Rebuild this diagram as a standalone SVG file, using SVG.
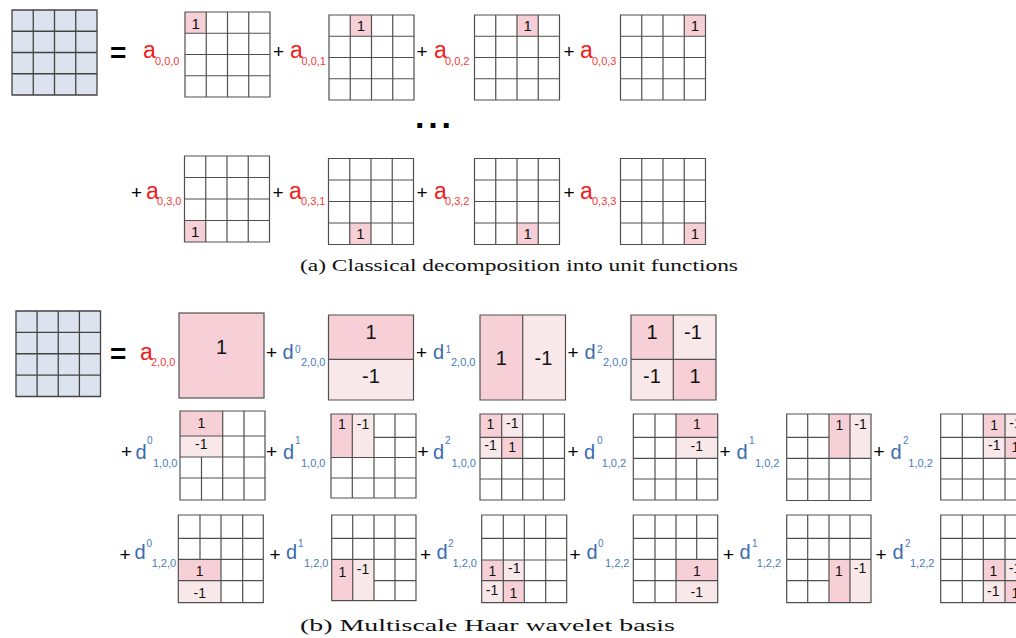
<svg xmlns="http://www.w3.org/2000/svg" width="1016" height="638" viewBox="0 0 1016 638">
<style>
text{font-family:"Liberation Sans",Arial,sans-serif}
.bg{fill:#ffffff}
.blue{fill:#dce3ee}
.pk{fill:#f6d0d6}
.lt{fill:#f9e8ea}
.ln{fill:none;stroke:#505050;stroke-width:1.2}
.lnb{fill:none;stroke:#444;stroke-width:1.3}
.c1{font-size:15px;fill:#111;text-anchor:middle}
.c2{font-size:14px;fill:#111;text-anchor:middle}
.big{font-size:20px;fill:#111;text-anchor:middle}
.eq{font-size:28px;font-weight:bold;fill:#000}
.plus{font-size:19px;fill:#000}
.a{font-size:23px;fill:#f21d1d}
.as{font-size:11px;fill:#f53a3a}
.d{font-size:20px;fill:#3a6daf}
.dp{font-size:10px;fill:#4a7cbc}
.ds{font-size:11px;fill:#4a7cbc}
.cap{font-family:"Liberation Serif","Times New Roman",serif;font-size:17px;fill:#111}
.dots{font-size:34px;font-weight:bold;fill:#000;letter-spacing:3.8px}
</style>

<!-- ===== (a) classical ===== -->
<g id="src-a">
<rect class="blue" x="12" y="10" width="85" height="85"/>
<path class="lnb" d="M12 10H97V95H12Z M33.25 10V95 M54.5 10V95 M75.75 10V95 M12 31.25H97 M12 52.5H97 M12 73.75H97"/>
</g>
<text class="eq" x="110" y="62">=</text>

<g id="labels-a">
<text class="a" x="143" y="58">a</text><text class="as" x="155" y="65">0,0,0</text>
<text class="plus" x="273" y="58">+</text><text class="a" x="290" y="58">a</text><text class="as" x="301.5" y="65">0,0,1</text>
<text class="plus" x="416.5" y="58">+</text><text class="a" x="434" y="58">a</text><text class="as" x="445" y="65">0,0,2</text>
<text class="plus" x="563.5" y="58">+</text><text class="a" x="580" y="58">a</text><text class="as" x="592" y="65">0,0,3</text>
<text class="plus" x="131" y="199">+</text><text class="a" x="146" y="199">a</text><text class="as" x="157" y="205">0,3,0</text>
<text class="plus" x="272.5" y="199">+</text><text class="a" x="289" y="199">a</text><text class="as" x="301" y="205">0,3,1</text>
<text class="plus" x="416.5" y="199">+</text><text class="a" x="434" y="199">a</text><text class="as" x="445" y="205">0,3,2</text>
<text class="plus" x="563.5" y="199">+</text><text class="a" x="580" y="199">a</text><text class="as" x="592" y="205">0,3,3</text>
</g>

<g id="g-a000">
<rect class="bg" x="185" y="12" width="85" height="85"/>
<rect class="pk" x="185" y="12" width="21.25" height="21.25"/>
<path class="ln" d="M185 12H270V97H185Z M206.25 12V97 M227.5 12V97 M248.75 12V97 M185 33.25H270 M185 54.5H270 M185 75.75H270"/>
<text class="c1" x="195.6" y="28.6">1</text>
</g>
<g id="g-a001">
<rect class="bg" x="329" y="15" width="85" height="85"/>
<rect class="pk" x="350.25" y="15" width="21.25" height="21.25"/>
<path class="ln" d="M329 15H414V100H329Z M350.25 15V100 M371.5 15V100 M392.75 15V100 M329 36.25H414 M329 57.5H414 M329 78.75H414"/>
<text class="c1" x="360.9" y="31.1">1</text>
</g>
<g id="g-a002">
<rect class="bg" x="474.5" y="15" width="85" height="85"/>
<rect class="pk" x="517" y="15" width="21.25" height="21.25"/>
<path class="ln" d="M474.5 15H559.5V100H474.5Z M495.75 15V100 M517 15V100 M538.25 15V100 M474.5 36.25H559.5 M474.5 57.5H559.5 M474.5 78.75H559.5"/>
<text class="c1" x="527.6" y="31.1">1</text>
</g>
<g id="g-a003">
<rect class="bg" x="620.5" y="15" width="85" height="85"/>
<rect class="pk" x="684.25" y="15" width="21.25" height="21.25"/>
<path class="ln" d="M620.5 15H705.5V100H620.5Z M641.75 15V100 M663 15V100 M684.25 15V100 M620.5 36.25H705.5 M620.5 57.5H705.5 M620.5 78.75H705.5"/>
<text class="c1" x="694.9" y="31.1">1</text>
</g>

<text class="dots" x="415" y="128">...</text>

<g id="g-a030">
<rect class="bg" x="184.5" y="156" width="85" height="86"/>
<rect class="pk" x="184.5" y="220.5" width="21.25" height="21.5"/>
<path class="ln" d="M184.5 156H269.5V242H184.5Z M205.75 156V242 M227 156V242 M248.25 156V242 M184.5 177.5H269.5 M184.5 199H269.5 M184.5 220.5H269.5"/>
<text class="c1" x="195.1" y="236.5">1</text>
</g>
<g id="g-a031">
<rect class="bg" x="328.5" y="158.5" width="85" height="86"/>
<rect class="pk" x="349.75" y="223" width="21.25" height="21.5"/>
<path class="ln" d="M328.5 158.5H413.5V244.5H328.5Z M349.75 158.5V244.5 M371 158.5V244.5 M392.25 158.5V244.5 M328.5 180H413.5 M328.5 201.5H413.5 M328.5 223H413.5"/>
<text class="c1" x="360.4" y="239">1</text>
</g>
<g id="g-a032">
<rect class="bg" x="474.5" y="158.5" width="85" height="86"/>
<rect class="pk" x="517" y="223" width="21.25" height="21.5"/>
<path class="ln" d="M474.5 158.5H559.5V244.5H474.5Z M495.75 158.5V244.5 M517 158.5V244.5 M538.25 158.5V244.5 M474.5 180H559.5 M474.5 201.5H559.5 M474.5 223H559.5"/>
<text class="c1" x="527.6" y="239">1</text>
</g>
<g id="g-a033">
<rect class="bg" x="620.5" y="158.5" width="85" height="86"/>
<rect class="pk" x="684.25" y="223" width="21.25" height="21.5"/>
<path class="ln" d="M620.5 158.5H705.5V244.5H620.5Z M641.75 158.5V244.5 M663 158.5V244.5 M684.25 158.5V244.5 M620.5 180H705.5 M620.5 201.5H705.5 M620.5 223H705.5"/>
<text class="c1" x="694.9" y="239">1</text>
</g>

<text class="cap" x="300" y="271" textLength="438" lengthAdjust="spacingAndGlyphs">(a) Classical decomposition into unit functions</text>

<!-- ===== (b) Haar ===== -->
<g id="src-b">
<rect class="blue" x="16" y="311" width="84.5" height="85.5"/>
<path class="lnb" d="M16 311H100.5V396.5H16Z M37.1 311V396.5 M58.25 311V396.5 M79.4 311V396.5 M16 332.4H100.5 M16 353.75H100.5 M16 375.1H100.5"/>
</g>
<text class="eq" x="110" y="363">=</text>

<g id="labels-b">
<text class="a" x="140" y="360">a</text><text class="as" x="151" y="366">2,0,0</text>
<text class="plus" x="266" y="359">+</text><text class="d" x="282.5" y="359">d</text><text class="dp" x="295" y="353">0</text><text class="ds" x="301" y="366">2,0,0</text>
<text class="plus" x="416" y="359">+</text><text class="d" x="433" y="359">d</text><text class="dp" x="445.5" y="353">1</text><text class="ds" x="451" y="366">2,0,0</text>
<text class="plus" x="567.5" y="359">+</text><text class="d" x="584.5" y="359">d</text><text class="dp" x="597" y="353">2</text><text class="ds" x="603" y="366">2,0,0</text>

<text class="plus" x="121" y="458">+</text><text class="d" x="135.5" y="458.5">d</text><text class="dp" x="147" y="444">0</text><text class="ds" x="153" y="467">1,0,0</text>
<text class="plus" x="266" y="458">+</text><text class="d" x="283" y="458.5">d</text><text class="dp" x="295" y="444">1</text><text class="ds" x="301" y="467">1,0,0</text>
<text class="plus" x="417.5" y="458">+</text><text class="d" x="433" y="458.5">d</text><text class="dp" x="445" y="444">2</text><text class="ds" x="451.5" y="467">1,0,0</text>
<text class="plus" x="567.5" y="458">+</text><text class="d" x="584" y="458.5">d</text><text class="dp" x="597" y="444">0</text><text class="ds" x="601.7" y="467">1,0,2</text>
<text class="plus" x="719.5" y="458">+</text><text class="d" x="736.5" y="458.5">d</text><text class="dp" x="749" y="444">1</text><text class="ds" x="755" y="467">1,0,2</text>
<text class="plus" x="873.5" y="458">+</text><text class="d" x="890.5" y="458.5">d</text><text class="dp" x="903" y="444">2</text><text class="ds" x="908.3" y="467">1,0,2</text>

<text class="plus" x="119.5" y="561">+</text><text class="d" x="134.5" y="559">d</text><text class="dp" x="146.5" y="547">0</text><text class="ds" x="151.7" y="567">1,2,0</text>
<text class="plus" x="269.5" y="561">+</text><text class="d" x="286" y="559">d</text><text class="dp" x="298" y="547">1</text><text class="ds" x="304" y="567">1,2,0</text>
<text class="plus" x="420" y="561">+</text><text class="d" x="436.5" y="559">d</text><text class="dp" x="448" y="547">2</text><text class="ds" x="452.5" y="567">1,2,0</text>
<text class="plus" x="569.5" y="561">+</text><text class="d" x="586.5" y="559">d</text><text class="dp" x="598" y="547">0</text><text class="ds" x="605" y="567">1,2,2</text>
<text class="plus" x="723" y="561">+</text><text class="d" x="739.5" y="559">d</text><text class="dp" x="752" y="547">1</text><text class="ds" x="756.7" y="567">1,2,2</text>
<text class="plus" x="875.5" y="561">+</text><text class="d" x="892.5" y="559">d</text><text class="dp" x="905" y="547">2</text><text class="ds" x="910" y="567">1,2,2</text>
</g>

<g id="g-a200">
<rect class="pk" x="179" y="313" width="85" height="85"/>
<rect class="ln" x="179" y="313" width="85" height="85"/>
<text class="big" x="221.5" y="354">1</text>
</g>
<g id="g-d0-200">
<rect class="pk" x="328.5" y="315" width="85" height="44.3"/>
<rect class="lt" x="328.5" y="359.3" width="85" height="40.7"/>
<path class="ln" d="M328.5 315H413.5V400H328.5Z M328.5 359.3H413.5"/>
<text class="big" x="371" y="339.3">1</text>
<text class="big" x="371" y="382.7">-1</text>
</g>
<g id="g-d1-200">
<rect class="pk" x="480" y="315" width="42.7" height="85"/>
<rect class="lt" x="522.7" y="315" width="42.8" height="85"/>
<path class="ln" d="M480 315H565.5V400H480Z M522.7 315V400"/>
<text class="big" x="501.3" y="365">1</text>
<text class="big" x="543.5" y="365">-1</text>
</g>
<g id="g-d2-200">
<rect class="pk" x="631" y="315" width="42.3" height="44.3"/>
<rect class="lt" x="673.3" y="315" width="42.7" height="44.3"/>
<rect class="lt" x="631" y="359.3" width="42.3" height="40.7"/>
<rect class="pk" x="673.3" y="359.3" width="42.7" height="40.7"/>
<path class="ln" d="M631 315H716V400H631Z M673.3 315V400 M631 359.3H716"/>
<text class="big" x="652" y="339.3">1</text>
<text class="big" x="693" y="339.3">-1</text>
<text class="big" x="652" y="382.7">-1</text>
<text class="big" x="695" y="382.7">1</text>
</g>

<g id="g-d0-100">
<rect class="bg" x="180" y="411" width="85" height="89"/>
<rect class="pk" x="180" y="411" width="42.7" height="25"/>
<rect class="lt" x="180" y="436" width="42.7" height="21"/>
<path class="ln" d="M180 411H265V500H180Z M222.7 411V500 M244 411V500 M201.5 457V500 M180 436H265 M180 457H265 M180 478H265"/>
<text class="c2" x="201.3" y="428.3">1</text>
<text class="c2" x="201.3" y="449.3">-1</text>
</g>
<g id="g-d1-100">
<rect class="bg" x="331" y="414" width="85" height="84"/>
<rect class="pk" x="331" y="414" width="21.3" height="43.5"/>
<rect class="lt" x="352.3" y="414" width="21.7" height="43.5"/>
<path class="ln" d="M331 414H416V498H331Z M352.3 414V498 M374 414V498 M395 414V498 M374 437.3H416 M331 457.5H416 M331 478H416"/>
<text class="c2" x="342" y="429">1</text>
<text class="c2" x="363" y="428.5">-1</text>
</g>
<g id="g-d2-100">
<rect class="bg" x="480" y="414" width="84.5" height="86"/>
<rect class="pk" x="480" y="414" width="21.7" height="23.3"/>
<rect class="lt" x="501.7" y="414" width="21" height="23.3"/>
<rect class="lt" x="480" y="437.3" width="21.7" height="21"/>
<rect class="pk" x="501.7" y="437.3" width="21" height="21"/>
<path class="ln" d="M480 414H564.5V500H480Z M501.7 414V500 M522.7 414V500 M543.3 414V500 M480 437.3H564.5 M480 458.3H564.5 M480 479H564.5"/>
<text class="c2" x="490.5" y="429">1</text>
<text class="c2" x="512.2" y="428">-1</text>
<text class="c2" x="490.5" y="450">-1</text>
<text class="c2" x="512.2" y="451.5">1</text>
</g>
<g id="g-d0-102">
<rect class="bg" x="633.3" y="414" width="84.4" height="86"/>
<rect class="pk" x="676" y="414" width="41.7" height="23.3"/>
<rect class="lt" x="676" y="437.3" width="41.7" height="21"/>
<path class="ln" d="M633.3 414H717.7V500H633.3Z M655 414V500 M676 414V500 M696.7 458.3V500 M633.3 437.3H717.7 M633.3 458.3H717.7 M633.3 479H717.7"/>
<text class="c2" x="696.8" y="428.5">1</text>
<text class="c2" x="696.8" y="450.5">-1</text>
</g>
<g id="g-d1-102">
<rect class="bg" x="786.7" y="414" width="84.3" height="86.5"/>
<rect class="pk" x="829" y="414" width="21" height="44.3"/>
<rect class="lt" x="850" y="414" width="21" height="44.3"/>
<path class="ln" d="M786.7 414H871V500.5H786.7Z M807.7 414V500.5 M829 414V500.5 M850 414V500.5 M786.7 437.3H829 M786.7 458.3H871 M786.7 479H871"/>
<text class="c2" x="839.5" y="430">1</text>
<text class="c2" x="860.5" y="428.5">-1</text>
</g>
<g id="g-d2-102">
<rect class="bg" x="940.7" y="414" width="85.3" height="86"/>
<rect class="pk" x="983.3" y="414" width="21.7" height="23.3"/>
<rect class="lt" x="1005" y="414" width="21" height="23.3"/>
<rect class="lt" x="983.3" y="437.3" width="21.7" height="21"/>
<rect class="pk" x="1005" y="437.3" width="21" height="21"/>
<path class="ln" d="M940.7 414H1026V500H940.7Z M962.3 414V500 M983.3 414V500 M1005 414V500 M940.7 437.3H1026 M940.7 458.3H1026 M940.7 479H1026"/>
<text class="c2" x="994.2" y="430">1</text>
<text class="c2" x="1015.5" y="428">-1</text>
<text class="c2" x="994.2" y="450">-1</text>
<text class="c2" x="1015.5" y="451.5">1</text>
</g>

<g id="g-d0-120">
<rect class="bg" x="178.3" y="515" width="85" height="87.7"/>
<rect class="pk" x="178.3" y="559.3" width="42.7" height="21.4"/>
<rect class="lt" x="178.3" y="580.7" width="42.7" height="22"/>
<path class="ln" d="M178.3 515H263.3V602.7H178.3Z M200 515V559.3 M221 515V602.7 M242.7 515V602.7 M178.3 538.3H263.3 M178.3 559.3H263.3 M178.3 580.7H263.3"/>
<text class="c2" x="199.7" y="575.7">1</text>
<text class="c2" x="199.7" y="597.5">-1</text>
</g>
<g id="g-d1-120">
<rect class="bg" x="331.7" y="515" width="84.3" height="85.7"/>
<rect class="pk" x="331.7" y="559.3" width="21" height="41.4"/>
<rect class="lt" x="352.7" y="559.3" width="21.3" height="41.4"/>
<path class="ln" d="M331.7 515H416V600.7H331.7Z M352.7 515V600.7 M374 515V600.7 M395 515V600.7 M331.7 538.3H416 M331.7 559.3H416 M374 580.7H416"/>
<text class="c2" x="342.3" y="576.7">1</text>
<text class="c2" x="363" y="573.5">-1</text>
</g>
<g id="g-d2-120">
<rect class="bg" x="481.7" y="515" width="85" height="87.7"/>
<rect class="pk" x="481.7" y="560" width="21.6" height="20.7"/>
<rect class="lt" x="503.3" y="560" width="21" height="20.7"/>
<rect class="lt" x="481.7" y="580.7" width="21.6" height="22"/>
<rect class="pk" x="503.3" y="580.7" width="21" height="22"/>
<path class="ln" d="M481.7 515H566.7V602.7H481.7Z M503.3 515V602.7 M524.3 515V602.7 M545.7 515V602.7 M481.7 538.3H566.7 M481.7 560H566.7 M481.7 580.7H566.7"/>
<text class="c2" x="492.5" y="575.7">1</text>
<text class="c2" x="514.2" y="573.3">-1</text>
<text class="c2" x="492" y="595">-1</text>
<text class="c2" x="513.5" y="598.3">1</text>
</g>
<g id="g-d0-122">
<rect class="bg" x="633.3" y="515" width="84.4" height="87.7"/>
<rect class="pk" x="676" y="559.3" width="41.7" height="21.4"/>
<rect class="lt" x="676" y="580.7" width="41.7" height="22"/>
<path class="ln" d="M633.3 515H717.7V602.7H633.3Z M655 515V602.7 M676 515V602.7 M696.7 515V559.3 M633.3 538.3H717.7 M633.3 559.3H717.7 M633.3 580.7H717.7"/>
<text class="c2" x="696.8" y="575.7">1</text>
<text class="c2" x="696.8" y="597.3">-1</text>
</g>
<g id="g-d1-122">
<rect class="bg" x="786.7" y="515" width="84.3" height="87.7"/>
<rect class="pk" x="829" y="559.3" width="21" height="43.4"/>
<rect class="lt" x="850" y="559.3" width="21" height="43.4"/>
<path class="ln" d="M786.7 515H871V602.7H786.7Z M807.7 515V602.7 M829 515V602.7 M850 515V602.7 M786.7 538.3H871 M786.7 559.3H871 M786.7 580.7H829"/>
<text class="c2" x="839" y="575.7">1</text>
<text class="c2" x="860" y="573.3">-1</text>
</g>
<g id="g-d2-122">
<rect class="bg" x="940.7" y="515" width="85.3" height="87.7"/>
<rect class="pk" x="983.3" y="559.3" width="21.7" height="21.4"/>
<rect class="lt" x="1005" y="559.3" width="21" height="21.4"/>
<rect class="lt" x="983.3" y="580.7" width="21.7" height="22"/>
<rect class="pk" x="1005" y="580.7" width="21" height="22"/>
<path class="ln" d="M940.7 515H1026V602.7H940.7Z M962.3 515V602.7 M983.3 515V602.7 M1005 515V602.7 M940.7 538.3H1026 M940.7 559.3H1026 M940.7 580.7H1026"/>
<text class="c2" x="993.5" y="575.7">1</text>
<text class="c2" x="1015" y="573">-1</text>
<text class="c2" x="993.3" y="595.7">-1</text>
<text class="c2" x="1015.5" y="598">1</text>
</g>

<g id="connectors"></g>

<text class="cap" x="300" y="631" textLength="375" lengthAdjust="spacingAndGlyphs">(b) Multiscale Haar wavelet basis</text>
</svg>
